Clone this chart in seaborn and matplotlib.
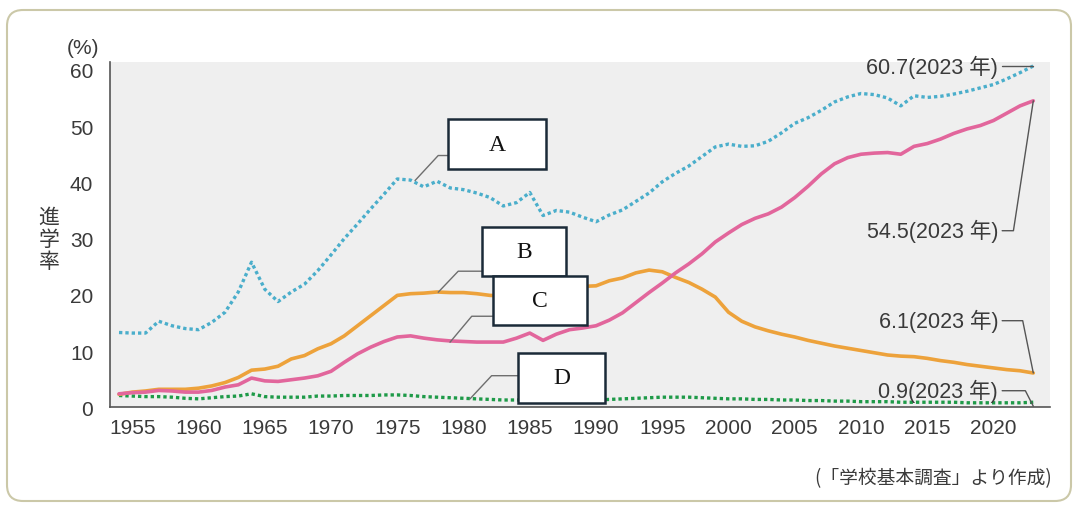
import numpy as np
import pandas as pd
import matplotlib
matplotlib.use("Agg")
import matplotlib.pyplot as plt
import seaborn as sns
from matplotlib.patches import Rectangle, FancyBboxPatch
from matplotlib.transforms import IdentityTransform

# ---------------- data ----------------
years = list(range(1954, 2024))

series_a = [13.3, 13.2, 13.2, 15.3, 14.5, 14.0, 13.8, 15.1, 16.9, 20.5,
            25.8, 21.0, 18.8, 20.5, 21.9, 24.3, 27.1, 30.0, 32.6, 35.3,
            37.9, 40.6, 40.4, 39.2, 40.2, 39.0, 38.7, 38.1, 37.3, 35.8,
            36.4, 38.2, 34.1, 35.0, 34.7, 33.8, 33.0, 34.2, 35.1, 36.6,
            38.1, 40.1, 41.6, 42.9, 44.6, 46.3, 46.8, 46.4, 46.5, 47.3,
            48.8, 50.5, 51.5, 52.8, 54.3, 55.2, 55.8, 55.6, 55.0, 53.6,
            55.4, 55.1, 55.3, 55.7, 56.2, 56.8, 57.4, 58.4, 59.5, 60.7]

series_b = [2.3, 2.7, 2.9, 3.2, 3.2, 3.2, 3.4, 3.8, 4.4, 5.3,
            6.6, 6.8, 7.3, 8.6, 9.2, 10.4, 11.3, 12.7, 14.5, 16.3,
            18.1, 19.9, 20.2, 20.3, 20.5, 20.4, 20.4, 20.2, 19.9, 19.8,
            19.9, 20.3, 20.6, 20.9, 21.1, 21.5, 21.6, 22.5, 23.0, 23.9,
            24.4, 24.1, 23.1, 22.2, 21.0, 19.6, 16.9, 15.3, 14.3, 13.6,
            13.0, 12.5, 11.9, 11.4, 10.9, 10.5, 10.1, 9.7, 9.3, 9.1,
            9.0, 8.7, 8.3, 8.0, 7.6, 7.3, 7.0, 6.7, 6.5, 6.1]

series_c = [2.4, 2.6, 2.7, 3.0, 2.9, 2.7, 2.7, 3.0, 3.6, 4.0,
            5.2, 4.7, 4.6, 4.9, 5.2, 5.6, 6.4, 8.0, 9.5, 10.7,
            11.7, 12.5, 12.7, 12.3, 12.0, 11.8, 11.7, 11.6, 11.6, 11.6,
            12.3, 13.2, 11.9, 13.0, 13.8, 14.1, 14.5, 15.5, 16.8, 18.6,
            20.4, 22.1, 23.9, 25.5, 27.3, 29.4, 31.0, 32.5, 33.6, 34.4,
            35.6, 37.3, 39.3, 41.5, 43.3, 44.4, 45.0, 45.2, 45.3, 45.0,
            46.4, 46.9, 47.7, 48.7, 49.5, 50.1, 51.0, 52.3, 53.6, 54.5]

series_d = [2.1, 2.0, 1.9, 1.9, 1.8, 1.6, 1.5, 1.7, 1.9, 2.0,
            2.4, 1.9, 1.8, 1.8, 1.8, 2.0, 2.0, 2.1, 2.1, 2.1,
            2.2, 2.2, 2.1, 1.9, 1.8, 1.7, 1.6, 1.5, 1.4, 1.3,
            1.3, 1.3, 1.3, 1.3, 1.3, 1.3, 1.3, 1.4, 1.5, 1.6,
            1.7, 1.8, 1.8, 1.8, 1.7, 1.6, 1.5, 1.5, 1.4, 1.4,
            1.3, 1.3, 1.2, 1.2, 1.1, 1.1, 1.0, 1.0, 1.0, 0.9,
            0.9, 0.9, 0.9, 0.9, 0.8, 0.8, 0.8, 0.8, 0.8, 0.9]

series_names = ["A", "B", "C", "D"]
end_labels = ["60.7(2023 年)", "54.5(2023 年)", "6.1(2023 年)", "0.9(2023 年)"]
x_ticks = list(range(1955, 2021, 5))
y_ticks = list(range(0, 61, 10))
y_label = "進\n学\n率"
unit_label = "(%)"
source_note = "(「学校基本調査」より作成)"

# ---------------- styling ----------------
sns.set_style("white")
plt.rcParams["font.family"] = ["Liberation Sans", "Noto Sans CJK JP", "DejaVu Sans"]
TXT = "#3a3a3a"
AX = "#555555"

fig = plt.figure(figsize=(10.73, 5.06), dpi=100)
fig.patch.set_facecolor("white")

# page frame (rounded)
frame = FancyBboxPatch((7, 4), 1064, 491, boxstyle="round,pad=0,rounding_size=16",
                       transform=IdentityTransform(), fill=False,
                       edgecolor="#cbc8a8", linewidth=1.5, zorder=0)
fig.patches.append(frame)

ax = fig.add_axes([110 / 1073, 1 - 408.3 / 506, 940 / 1073, 345.3 / 506])
ax.set_facecolor("#efefef")

df = pd.DataFrame({"year": years * 4,
                   "value": series_a + series_b + series_c + series_d,
                   "series": sum([[n] * len(years) for n in series_names], [])})

colors = {"A": "#4aaecb", "B": "#eda23b", "C": "#e2669c", "D": "#1e9a48"}
dotted = (0, (1.0, 0.9))
styles = {"A": dict(lw=2.4, ls=dotted), "B": dict(lw=2.6, ls="-"),
          "C": dict(lw=2.6, ls="-"), "D": dict(lw=2.4, ls=dotted)}
order = ["D", "A", "B", "C"]
for n in order:
    sub = df[df["series"] == n]
    sns.lineplot(data=sub, x="year", y="value", ax=ax, color=colors[n],
                 linewidth=styles[n]["lw"], linestyle=styles[n]["ls"],
                 legend=False, zorder=3)

ax.set_xlim(1953.32, 2024.26)
ax.set_ylim(0, 61.4)
ax.set_xticks(x_ticks)
ax.set_xticks([2023], minor=True)
ax.set_yticks(y_ticks)
ax.set_xlabel("")
ax.set_ylabel("")
for s in ["top", "right"]:
    ax.spines[s].set_visible(False)
for s in ["left", "bottom"]:
    ax.spines[s].set_color(AX)
    ax.spines[s].set_linewidth(1.2)
ax.tick_params(axis="x", which="both", direction="out", length=5, width=1, color=AX,
               labelsize=15, labelcolor=TXT, pad=3)
ax.tick_params(axis="y", direction="out", length=4, width=1, color=AX,
               labelsize=15, labelcolor=TXT, pad=8)
ax.tick_params(axis="x", which="minor", labelbottom=False)

# axis annotations
fig.text(83 / 1073, 1 - 48 / 506, unit_label, fontsize=15, color=TXT, ha="center", va="center")
fig.text(49 / 1073, 1 - 240 / 506, y_label, fontsize=15, color=TXT, ha="center", va="center",
         linespacing=1.0, family=["Noto Sans CJK JP"])
fig.text(1052 / 1073, 1 - 479 / 506, source_note, fontsize=13.5, color=TXT,
         ha="right", va="center", family=["Noto Sans CJK JP"])

# end labels with leader lines
lab_y = [60.7, 31.4, 15.4, 2.95]
knee_x = [2020.7, 2021.5, 2022.2, 2022.4]
tip_y = [series_a[-1], series_c[-1], series_b[-1], 0.2]
lead_kw = dict(color="#555555", lw=1.0, zorder=4, clip_on=False)
for lab, ly, kx, ty in zip(end_labels, lab_y, knee_x, tip_y):
    ax.text(2020.35, ly, lab, fontsize=15.5, color=TXT, ha="right", va="center",
            family=["Liberation Sans", "Noto Sans CJK JP"], zorder=5)
    ax.plot([2020.65, kx, years[-1]], [ly, ly, ty], **lead_kw)

# letter boxes
boxes = {"A": (1978.86, 42.3, 7.37, 9.0),
         "B": (1981.37, 23.4, 6.36, 8.6),
         "C": (1982.25, 14.6, 7.05, 8.8),
         "D": (1984.13, 0.77, 6.55, 8.9)}
leaders = {"A": ([1978.86, 1978.09, 1976.34], [44.77, 44.77, 40.32]),
           "B": ([1981.37, 1979.60, 1978.09], [24.2, 24.2, 20.46]),
           "C": ([1982.25, 1980.62, 1978.98], [16.19, 16.19, 11.57]),
           "D": ([1984.13, 1982.12, 1980.48], [5.62, 5.62, 1.48])}
for n in series_names:
    lx, ly = leaders[n]
    ax.plot(lx, ly, color="#6e6e6e", lw=1.0, zorder=4)
for i, n in enumerate(series_names):
    x0, y0, w, h = boxes[n]
    ax.add_patch(Rectangle((x0, y0), w, h, facecolor="white", edgecolor="#1b2a38",
                           linewidth=1.8, zorder=6 + i))
    ax.text(x0 + w / 2, y0 + h / 2, n, fontsize=17, family=["Liberation Serif"],
            color="#111111", ha="center", va="center", zorder=6 + i)

fig.savefig("out.png", dpi=100, facecolor="white")
